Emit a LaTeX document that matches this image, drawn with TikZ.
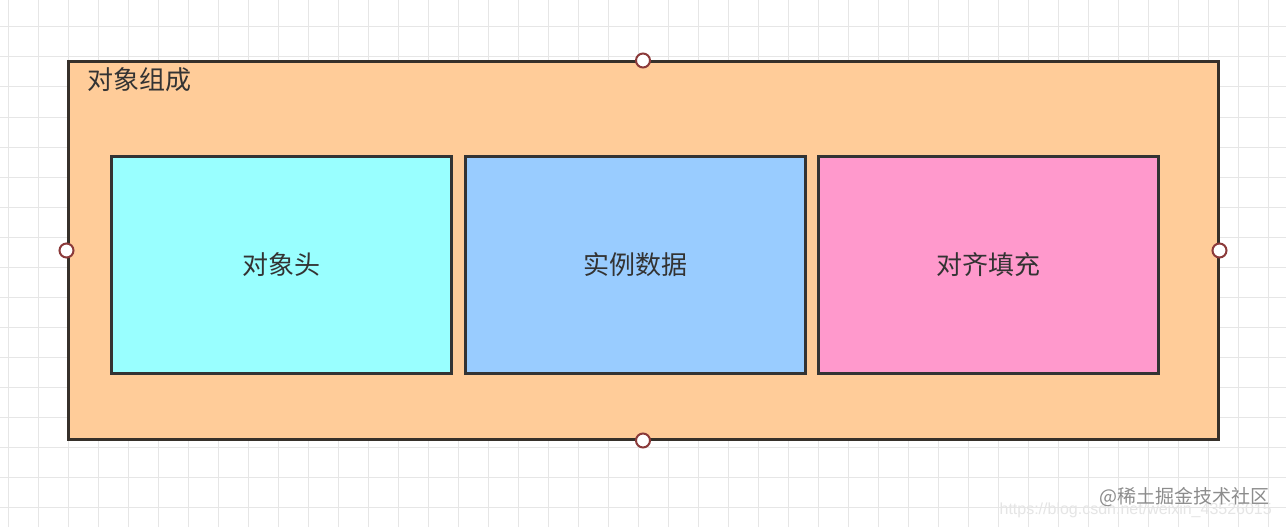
\documentclass[tikz,border=0pt]{standalone}
\usepackage{fontspec}
\newfontfamily\cjk{Noto Sans CJK SC}
\newfontfamily\lat{Liberation Sans}
\definecolor{gridc}{HTML}{E6E6E6}
\definecolor{outerfill}{HTML}{FFCC99}
\definecolor{cyanfill}{HTML}{99FFFF}
\definecolor{bluefill}{HTML}{99CCFF}
\definecolor{pinkfill}{HTML}{FF99CC}
\definecolor{strokec}{HTML}{333333}
\definecolor{outerstroke}{HTML}{36302A}
\definecolor{handlec}{HTML}{8B3A3A}
\definecolor{txt}{HTML}{333333}
\begin{document}
\begin{tikzpicture}[x=1pt,y=-1pt,
  part/.style={draw=strokec,line width=3pt,minimum width=340pt,minimum height=217pt,inner sep=0pt,
    font=\cjk\fontsize{26pt}{30pt}\selectfont,text=txt},
  handle/.style={circle,draw=handlec,fill=white,line width=2pt,minimum size=14pt,inner sep=0pt}]
\useasboundingbox (0,0) rectangle (1286,527);
\fill[white] (0,0) rectangle (1286,527);
\foreach \x in {8,38,...,1286} \draw[gridc,line width=1pt] (\x,0) -- (\x,527);
\foreach \y in {27,57,...,527} \draw[gridc,line width=1pt] (0,\y) -- (1286,\y);
\node[draw=outerstroke,fill=outerfill,line width=3pt,minimum width=1150pt,minimum height=377pt,inner sep=0pt] (outer) at (643,250.5) {};
\node[anchor=west,font=\cjk\fontsize{26pt}{30pt}\selectfont,text=txt,inner sep=0pt] (title) at (87,79.5) {对象组成};
\node[part,fill=cyanfill] (head) at (281.5,264.5) {对象头};
\node[part,fill=bluefill] (data) at (635.5,264.5) {实例数据};
\node[part,fill=pinkfill] (pad) at (988,264.5) {对齐填充};
\node[handle] (hn) at (outer.north) {};
\node[handle] (hs) at (outer.south) {};
\node[handle] (hw) at (outer.west) {};
\node[handle] (he) at (outer.east) {};
\node[anchor=east,font=\lat\fontsize{16pt}{18pt}\selectfont,text=black!10,inner sep=0pt] (url) at (1272,510) {https://blog.csdn.net/weixin\_43526015};
\node[anchor=east,font=\cjk\fontsize{19pt}{22pt}\selectfont,text=black!45,inner sep=0pt] (wm) at (1270,497) {@稀土掘金技术社区};
\end{tikzpicture}
\end{document}
